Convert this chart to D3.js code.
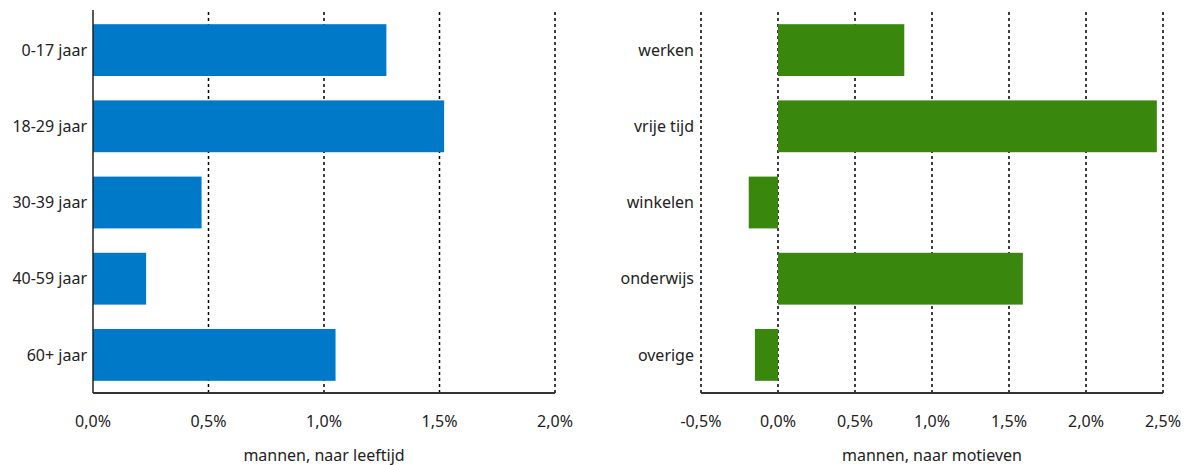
<!DOCTYPE html>
<html>
<head>
<meta charset="utf-8">
<script src="https://cdn.jsdelivr.net/npm/d3@7"></script>
<style>
  body { margin: 0; background: #fff; }
  svg text { font-family: 'Noto Sans', sans-serif; fill: #222; }
</style>
</head>
<body>
<div id="chart"></div>
<script>
const ageCategories = ['0-17 jaar', '18-29 jaar', '30-39 jaar', '40-59 jaar', '60+ jaar'];
const ageValues = [1.27, 1.52, 0.47, 0.23, 1.05];
const ageTicks = [0, 0.5, 1.0, 1.5, 2.0];

const motiveCategories = ['werken', 'vrije tijd', 'winkelen', 'onderwijs', 'overige'];
const motiveValues = [0.82, 2.46, -0.19, 1.59, -0.15];
const motiveTicks = [-0.5, 0, 0.5, 1.0, 1.5, 2.0, 2.5];

const width = 1184;
const height = 465;
const plotTop = 12;
const plotBottom = 393;

const svg = d3.select('#chart').append('svg')
  .attr('width', width)
  .attr('height', height);

const fmt = v => `${v.toFixed(1).replace('.', ',')}%`;

const drawPanel = function drawPanel(opts) {
  const x = d3.scaleLinear()
    .domain(opts.domain)
    .range([opts.left, opts.right]);
  const y = d3.scaleBand()
    .domain(opts.categories)
    .range([plotTop, plotBottom])
    .paddingInner(0.32)
    .paddingOuter(0.16);

  const g = svg.append('g');

  // dotted gridlines
  g.append('g')
    .selectAll('line')
    .data(opts.ticks.filter(t => !(opts.solidZero && t === 0)))
    .enter()
    .append('line')
    .attr('x1', d => x(d))
    .attr('x2', d => x(d))
    .attr('y1', plotTop)
    .attr('y2', plotBottom)
    .attr('stroke', '#000')
    .attr('stroke-width', 1.5)
    .attr('stroke-dasharray', '3,3');

  g.append('g')
    .selectAll('rect')
    .data(opts.values)
    .enter()
    .append('rect')
    .attr('x', d => x(Math.min(0, d)))
    .attr('width', d => Math.abs(x(d) - x(0)))
    .attr('y', (d, i) => y(opts.categories[i]))
    .attr('height', y.bandwidth())
    .attr('fill', opts.color);

  if (opts.solidZero) {
    g.append('line')
      .attr('x1', x(0))
      .attr('x2', x(0))
      .attr('y1', plotTop - 2)
      .attr('y2', plotBottom)
      .attr('stroke', '#222')
      .attr('stroke-width', 1.5);
  }

  // bottom axis line
  g.append('line')
    .attr('x1', opts.left)
    .attr('x2', opts.right)
    .attr('y1', plotBottom)
    .attr('y2', plotBottom)
    .attr('stroke', '#333')
    .attr('stroke-width', 2);

  g.append('g')
    .selectAll('text')
    .data(opts.ticks)
    .enter()
    .append('text')
    .attr('x', d => x(d))
    .attr('y', 427)
    .attr('text-anchor', 'middle')
    .attr('font-size', 16)
    .text(fmt);

  g.append('g')
    .selectAll('text')
    .data(opts.categories)
    .enter()
    .append('text')
    .attr('x', opts.labelX)
    .attr('y', d => y(d) + y.bandwidth() / 2)
    .attr('dy', '0.35em')
    .attr('text-anchor', 'end')
    .attr('font-size', 16)
    .text(d => d);

  g.append('text')
    .attr('x', (opts.left + opts.right) / 2)
    .attr('y', 461)
    .attr('text-anchor', 'middle')
    .attr('font-size', 16)
    .text(opts.title);
};

drawPanel({
  categories: ageCategories,
  values: ageValues,
  ticks: ageTicks,
  domain: [0, 2.0],
  left: 93,
  right: 555,
  labelX: 87,
  color: '#0079c8',
  solidZero: true,
  title: 'mannen, naar leeftijd',
});

drawPanel({
  categories: motiveCategories,
  values: motiveValues,
  ticks: motiveTicks,
  domain: [-0.5, 2.5],
  left: 701,
  right: 1163,
  labelX: 694,
  color: '#3a870e',
  solidZero: false,
  title: 'mannen, naar motieven',
});
</script>
</body>
</html>
